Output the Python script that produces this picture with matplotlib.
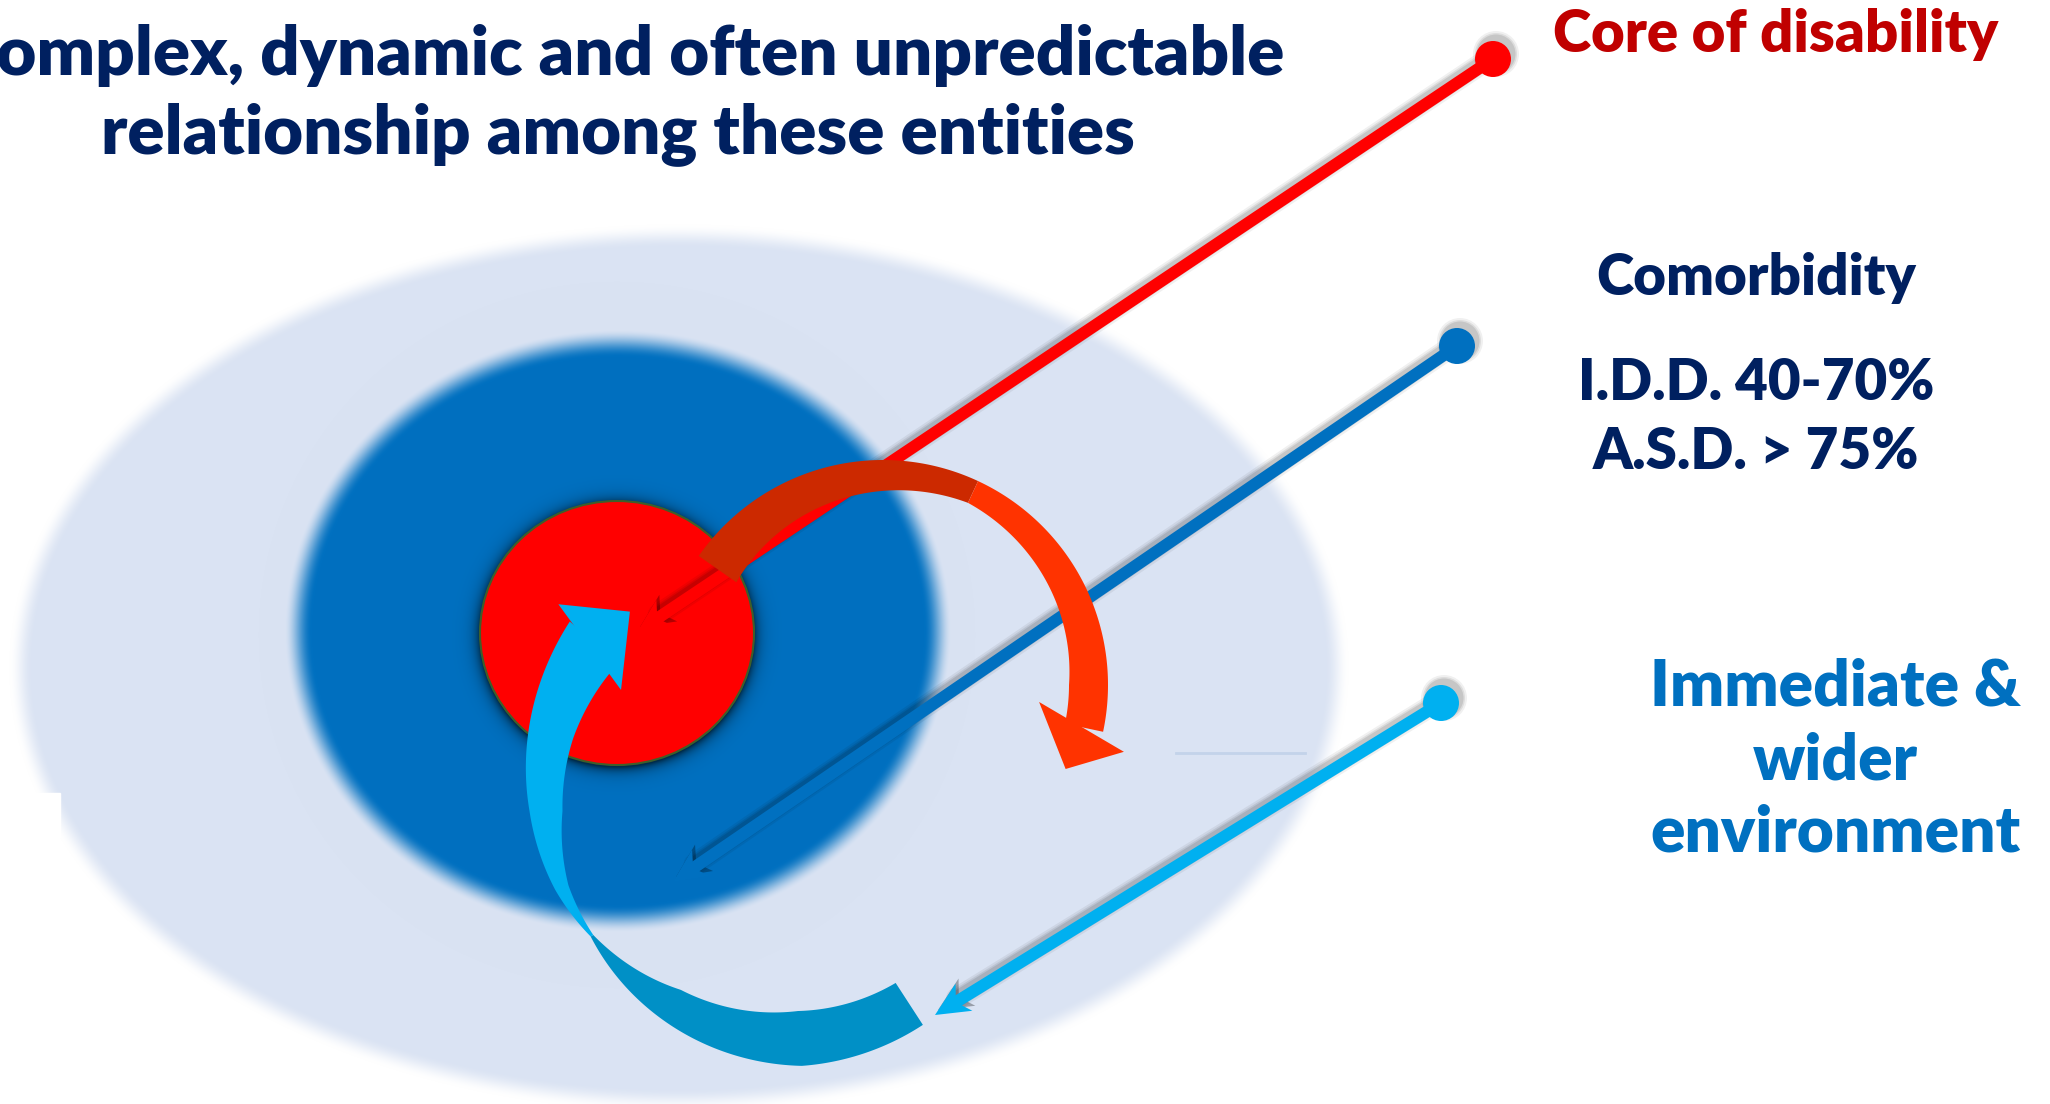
import numpy as np
import matplotlib
matplotlib.use("Agg")
import matplotlib.pyplot as plt
from matplotlib.patches import Ellipse, Circle, Polygon, Rectangle

W, H = 2050, 1104

# text content
title_lines = ["Complex, dynamic and often unpredictable",
               "relationship among these entities"]
core_label = "Core of disability"
comorb_lines = ["Comorbidity", "I.D.D. 40-70%", "A.S.D. > 75%"]
env_lines = ["Immediate &", "wider", "environment"]

# colours
navy = "#002060"
dark_red = "#C00000"
mid_blue = "#0070C0"
sky = "#00B0F0"
pale = (218 / 255, 227 / 255, 243 / 255)
ring_blue = (0 / 255, 112 / 255, 192 / 255)

# rings: centre x, centre y, semi axes, soft edge width (px)
outer_ring = (679, 668, 658, 432, 12)
middle_ring = (618, 631, 320, 288, 14)
core = (617, 633, 137, 132)

# pointer lines: dot end, arrow tip, colour
pointers = [((1493, 59), (637, 632), "#FF0000"),
            ((1457, 346), (673, 882), mid_blue),
            ((1441, 703), (935, 1015), sky)]

# curved arrows (angles in degrees, radii/widths in px)
red_loop_center = (883, 685)
red_loop_angles = [-12, 0, 65, 145]
red_loop_radius = [205.5, 205.5, 213, 202]
red_loop_width = [39, 39, 24, 46]
red_loop_fold = 65
red_loop_head = [(157, -6.2), (201, -24.7), (250, -15.5)]

blue_loop_center = (784, 811)
blue_loop_angles = [138.5, 161, 180, 199, 213, 240, 274, 303]
blue_loop_radius = [254, 246, 238, 235, 229, 224, 228, 230]
blue_loop_width = [64, 46, 33, 14, 3, 35, 55, 50]
blue_loop_fold = 213
blue_loop_head = [(306, 137.5), (252, 127.7), (203, 143.4)]

font = dict(family="Lato", fontweight="heavy")


def edge_dist(xx, yy, cx, cy, a, b):
    # approximate signed distance (px) to an ellipse outline
    dx, dy = xx - cx, yy - cy
    rho = np.sqrt((dx / a) ** 2 + (dy / b) ** 2)
    g = np.sqrt((dx / a ** 2) ** 2 + (dy / b ** 2) ** 2) / np.maximum(rho, 1e-9)
    return (rho - 1) / np.maximum(g, 1e-9)


def coverage(d, soft):
    t = np.clip(0.5 - d / (2 * soft), 0, 1)
    return t * t * (3 - 2 * t)


def polar(center, r, th):
    t = np.deg2rad(th)
    return center[0] + r * np.cos(t), center[1] - r * np.sin(t)


def ribbon(center, th0, th1, angles, radius, width, n=240):
    th = np.linspace(th0, th1, n)
    r = np.interp(th, angles, radius)
    w = np.interp(th, angles, width)
    ox, oy = polar(center, r + w / 2, th)
    ix, iy = polar(center, r - w / 2, th)
    return np.column_stack([np.r_[ox, ix[::-1]], np.r_[oy, iy[::-1]]])


fig = plt.figure(figsize=(W / 100, H / 100), dpi=100)
ax = fig.add_axes([0, 0, 1, 1])
ax.set_xlim(0, W)
ax.set_ylim(H, 0)
ax.axis("off")

# soft-edged rings rendered as an image
yy, xx = np.mgrid[0:H, 0:W] + 0.5
img = np.ones((H, W, 3))
for ring, col in [(outer_ring, pale), (middle_ring, ring_blue)]:
    cx, cy, a, b, soft = ring
    al = coverage(edge_dist(xx, yy, cx, cy, a, b), soft)[..., None]
    img = img * (1 - al) + np.array(col) * al
# dark halo round the core
d = edge_dist(xx, yy, core[0], core[1] + 2, core[2], core[3])
shade = 0.6 * np.exp(-np.clip(d, 0, None) / 6)
img = img * (1 - shade[..., None])
ax.imshow(img, extent=(0, W, H, 0), interpolation="bilinear", zorder=0)

ax.add_patch(Rectangle((0, 793), 60, 45, color="white", zorder=1))
ax.plot([1176, 1305], [753, 753], color="#C3D3EA", lw=2, zorder=1)

ax.add_patch(Ellipse(core[:2], 2 * core[2], 2 * core[3], fc="#FF0000",
                     ec="#3F5F2A", lw=1.5, zorder=2))

# pointer lines with dot, stealth head and soft shadow
lw_px = 12
sdx, sdy = 3, -5
for start, tip, col in pointers:
    p0, p1 = np.array(start, float), np.array(tip, float)
    u = (p1 - p0) / np.linalg.norm(p1 - p0)
    nrm = np.array([-u[1], u[0]])
    L, hw = 34, 16
    notch = p1 - u * 0.72 * L
    head = np.array([p1, p1 - u * L + nrm * hw, notch, p1 - u * L - nrm * hw])
    shaft_end = notch + u * 2
    xs, ys = [p0[0], shaft_end[0]], [p0[1], shaft_end[1]]
    for k, a in [(10, 0.06), (6, 0.08), (3, 0.1)]:
        ax.plot(np.add(xs, sdx), np.add(ys, sdy), color="black", alpha=a,
                lw=(lw_px + k) * 0.72, solid_capstyle="round", zorder=3)
        ax.add_patch(Circle((p0[0] + sdx, p0[1] + sdy), 18 + k / 2,
                            color="black", alpha=a, lw=0, zorder=3))
    ax.add_patch(Polygon(head + [sdx, sdy], closed=True, color="black",
                         alpha=0.3, lw=0, zorder=3))
    ax.plot(xs, ys, color=col, lw=lw_px * 0.72, solid_capstyle="butt", zorder=4)
    ax.add_patch(Polygon(head, closed=True, color=col, lw=0, zorder=4))
    ax.add_patch(Circle(p0, 18, color=col, lw=0, zorder=4))

# curved arrow round the top right
c = red_loop_center
ax.add_patch(Polygon(ribbon(c, red_loop_fold, red_loop_angles[-1], red_loop_angles,
                            red_loop_radius, red_loop_width),
                     closed=True, color="#CC2900", lw=0, zorder=5))
ax.add_patch(Polygon(ribbon(c, red_loop_angles[0], red_loop_fold, red_loop_angles,
                            red_loop_radius, red_loop_width),
                     closed=True, color="#FF3300", lw=0, zorder=5))
ax.add_patch(Polygon(np.column_stack(polar(c, *np.array(red_loop_head).T)),
                     closed=True, color="#FF3300", lw=0, zorder=5))

# curved arrow round the bottom left
c = blue_loop_center
ax.add_patch(Polygon(ribbon(c, blue_loop_fold, blue_loop_angles[-1], blue_loop_angles,
                            blue_loop_radius, blue_loop_width),
                     closed=True, color="#0090C6", lw=0, zorder=5))
ax.add_patch(Polygon(ribbon(c, blue_loop_angles[0], blue_loop_fold, blue_loop_angles,
                            blue_loop_radius, blue_loop_width),
                     closed=True, color=sky, lw=0, zorder=6))
ax.add_patch(Polygon(np.column_stack(polar(c, *np.array(blue_loop_head).T)),
                     closed=True, color=sky, lw=0, zorder=6))

# text, sized so each line spans its target width
renderer = fig.canvas.get_renderer()


def fitted_size(s, width):
    t = ax.text(0, 0, s, fontsize=40, **font)
    w = t.get_window_extent(renderer).width
    t.remove()
    return 40 * width / w


def put(s, x, y, size, color):
    ax.text(x, y, s, fontsize=size, color=color, ha="center",
            va="baseline", zorder=8, **font)


fs = fitted_size(title_lines[1], 1033)
put(title_lines[0], 618, 75, fs, navy)
put(title_lines[1], 618, 153, fs, navy)

put(core_label, 1776, 52, fitted_size(core_label, 445), dark_red)

fs = fitted_size(comorb_lines[1], 356)
for s, y in zip(comorb_lines, [295, 400, 469]):
    put(s, 1756, y, fs, navy)

fs = fitted_size(env_lines[2], 370)
for s, y in zip(env_lines, [706, 780, 852]):
    put(s, 1835, y, fs, mid_blue)

fig.savefig("out.png", dpi=100)
